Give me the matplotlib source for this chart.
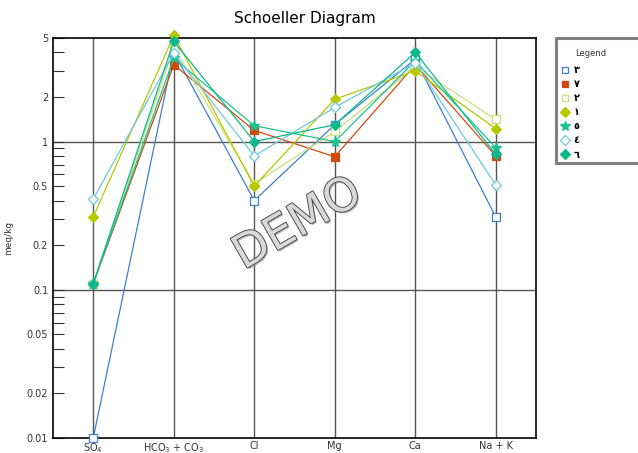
import numpy as np
import matplotlib.pyplot as plt
import matplotlib.patheffects as pe
from matplotlib.patches import Rectangle
from matplotlib.ticker import FixedLocator, NullFormatter

# ions along the x axis
ions = [r'SO$_4$', r'HCO$_3$ + CO$_3$', 'Cl', 'Mg', 'Ca', 'Na + K']

# sample concentrations in meq/kg
s3 = [0.01, 4.0, 0.40, 1.30, 3.60, 0.31]
s7 = [0.11, 3.3, 1.19, 0.79, 3.30, 0.80]
s2 = [0.11, 4.3, 0.52, 1.17, 3.20, 1.41]
s1 = [0.31, 5.2, 0.50, 1.93, 3.00, 1.22]
s5 = [0.11, 3.65, 1.28, 1.00, 3.50, 0.91]
s4 = [0.41, 3.95, 0.80, 1.70, 3.40, 0.51]
s6 = [0.11, 4.76, 1.00, 1.30, 4.00, 0.82]

names = ['٣', '٧', '٢', '١', '٥', '٤', '٦']
series = [s3, s7, s2, s1, s5, s4, s6]
colors = ['#3f7fcf', '#d04a10', '#c8e07a', '#b5c800', '#1cc38f', '#70c8dc', '#0fb88c']
markers = ['s', 's', 's', 'D', '*', 'D', 'D']
filled = [False, True, False, True, True, False, True]
msizes = [5.5, 5.5, 5.5, 5.5, 8, 5.5, 5.5]

fig = plt.figure(figsize=(6.38, 4.53), dpi=100)
ax = fig.add_axes([53 / 638, 15 / 453, 483 / 638, 400 / 453])

x = np.arange(len(ions))
for vals, name, c, m, f, ms in zip(series, names, colors, markers, filled, msizes):
    ax.plot(x, vals, color=c, lw=0.9, marker=m, ms=ms,
            mfc=c if f else 'white', mec=c, mew=0.9, label=name,
            clip_on=False, zorder=3)

ax.set_yscale('log')
ax.set_ylim(0.01, 5)
ax.set_xlim(-0.5, 5.5)

major = [0.01, 0.02, 0.05, 0.1, 0.2, 0.5, 1, 2, 5]
minor = [0.03, 0.04, 0.06, 0.07, 0.08, 0.09,
         0.3, 0.4, 0.6, 0.7, 0.8, 0.9, 3, 4]
ax.yaxis.set_major_locator(FixedLocator(major))
ax.yaxis.set_minor_locator(FixedLocator(minor))
ax.yaxis.set_minor_formatter(NullFormatter())
ax.set_yticklabels(['0.01', '0.02', '0.05', '0.1', '0.2', '0.5', '1', '2', '5'])
ax.tick_params(axis='y', which='both', direction='in', length=8, width=0.8,
               labelsize=7, colors='#333333')
ax.set_xticks(x)
ax.set_xticklabels(ions)
ax.tick_params(axis='x', length=0, labelsize=7, pad=2, colors='#333333')

# grid: category lines and decade lines
for xi in x:
    ax.axvline(xi, color='#555555', lw=1.0, zorder=1)
for yv in [0.1, 1]:
    ax.axhline(yv, color='#555555', lw=1.0, zorder=1)

for sp in ax.spines.values():
    sp.set_color('black')
    sp.set_linewidth(1.2)

ax.set_ylabel('meq/kg', fontsize=6.5, color='#333333', labelpad=10)
fig.text(305 / 638, 1 - 18 / 453, 'Schoeller Diagram', ha='center', va='center',
         fontsize=11)

# watermark
fig.text(298 / 638, 1 - 224 / 453, 'DEMO', rotation=30, ha='center', va='center',
         fontsize=33, color='#d8d8d8', zorder=10,
         path_effects=[pe.withSimplePatchShadow(offset=(1.2, -1.2),
                                                shadow_rgbFace='#999999', alpha=0.7),
                       pe.Stroke(linewidth=1.3, foreground='#444444'),
                       pe.Normal()])

# legend box
fig.patches.append(Rectangle((556 / 638, 1 - 163 / 453), 0.2, 125 / 453,
                             transform=fig.transFigure, fill=True, fc='white',
                             ec='#808080', lw=2.2, zorder=0))
fig.text(591 / 638, 1 - 53 / 453, 'Legend', ha='center', va='center',
         fontsize=6, color='#333333')
leg = fig.legend(loc='upper left', bbox_to_anchor=(562 / 638, 1 - 65 / 453),
                 frameon=False, handlelength=0.6, handletextpad=0.6,
                 labelspacing=0.42, borderaxespad=0, borderpad=0, markerscale=0.9,
                 prop={'family': ['DejaVu Sans'], 'size': 7, 'weight': 'bold'})
for h in leg.legend_handles:
    h.set_linestyle('none')

fig.savefig('out.png', dpi=100)
